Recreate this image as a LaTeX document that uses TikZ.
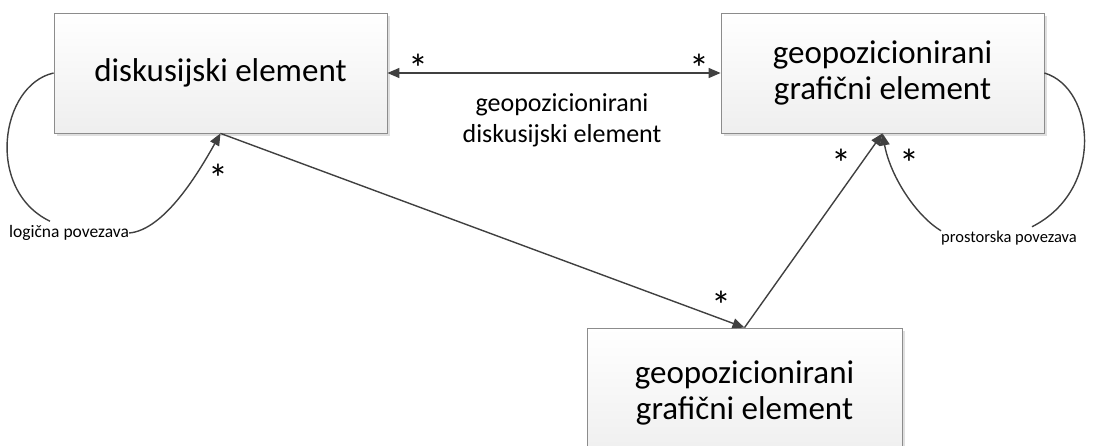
\documentclass[tikz,border=0pt]{standalone}
\usepackage{fontspec}
\setmainfont{Carlito}
\usetikzlibrary{arrows.meta,shadows}
\definecolor{edge}{HTML}{404040}
\definecolor{frame}{HTML}{8C8C8C}
\begin{document}
\begin{tikzpicture}[x=1pt,y=-1pt,
  box/.style={draw=frame, line width=0.8pt, top color=white, bottom color=gray!13,
    drop shadow={shadow xshift=2.5pt, shadow yshift=-2.5pt, opacity=0.25, fill=gray},
    align=center, inner sep=0pt, font=\fontsize{33}{36}\selectfont},
  conn/.style={draw=edge, line width=1.4pt, -{Triangle[length=12pt,width=10pt]}},
  plain/.style={draw=edge, line width=1.4pt},
  mult/.style={font=\fontsize{40}{40}\selectfont, inner sep=0pt},
  tag/.style={font=\fontsize{16.5}{18}\selectfont, inner sep=0pt}]
\useasboundingbox (0,0) rectangle (1098,445);

% classes
\node[box, minimum width=333pt, minimum height=120pt] (b1) at (220.5,73) {diskusijski element};
\node[box, minimum width=323pt, minimum height=120pt] (b2) at (882.5,73) {geopozicionirani\\grafični element};
\node[box, minimum width=315pt, minimum height=130pt] (b3) at (744.5,393) {geopozicionirani\\grafični element};

% association between discussion and graphic element
\draw[plain, {Triangle[length=12pt,width=10pt]}-{Triangle[length=12pt,width=10pt]}] (b1.east) -- (b2.west);
\node[font=\fontsize{26}{31}\selectfont, align=center, inner sep=0pt] (mid) at (562,120) {geopozicionirani\\diskusijski element};
\node[mult] (m1) at (418,68) {*};
\node[mult] (m2) at (699,68) {*};

% path through the lower element
\draw[conn] (b1.south) -- (b3.north);
\draw[conn] (b3.north) -- (b2.south);
\node[mult] (m3) at (721,305) {*};
\node[mult] (m4) at (841,163) {*};

% self association: logical link
\node[tag, font=\fontsize{17.5}{19}\selectfont] (t1) at (69,233) {logična povezava};
\draw[plain] (b1.west) .. controls (0,85) and (-15,190) .. ([xshift=-19pt,yshift=4pt]t1.north);
\draw[conn] (t1.east) .. controls (165,230) and (200,170) .. (b1.south);
\node[mult] (m5) at (218,178) {*};

% self association: spatial link
\node[tag] (t2) at (1009,238) {prostorska povezava};
\draw[plain] (b2.east) .. controls (1095,88) and (1105,190) .. ([xshift=23pt,yshift=4pt]t2.north);
\draw[conn] (t2.north west) .. controls (915,215) and (890,175) .. (b2.south);
\node[mult] (m6) at (909,163) {*};
\end{tikzpicture}
\end{document}
